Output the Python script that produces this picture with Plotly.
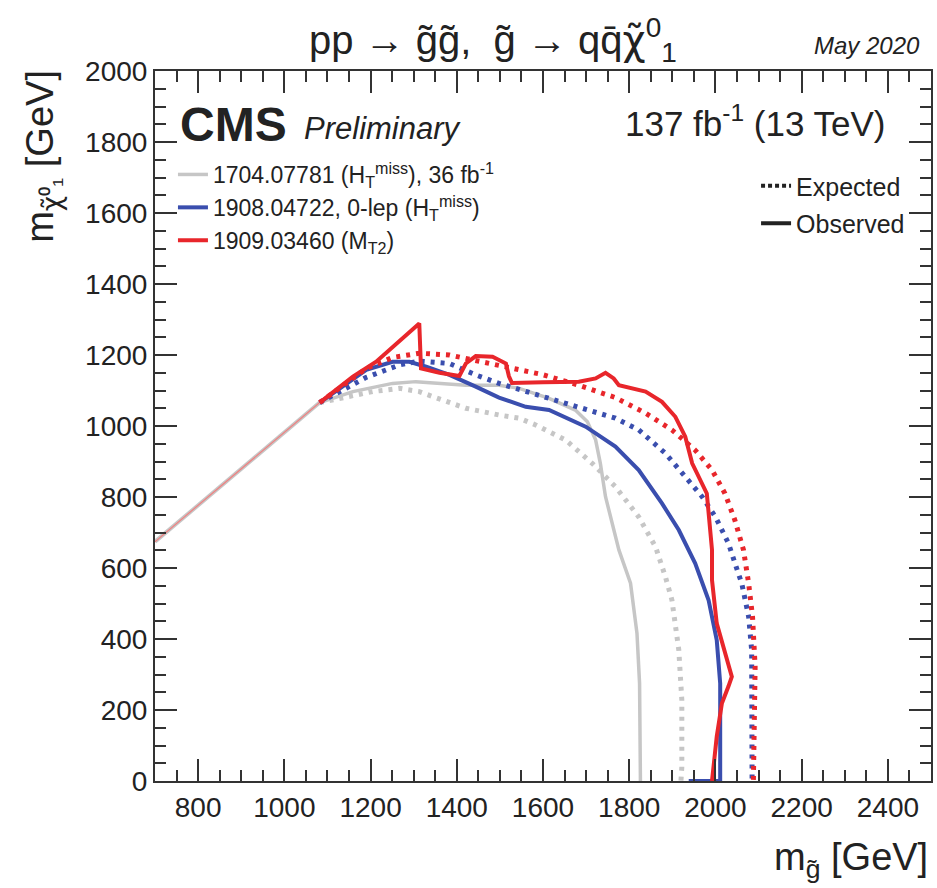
import plotly.graph_objects as go

# ---- data (GeV) ----
diag_x = [700, 1082]
diag_y = [674, 1066]

gray_obs_x = [1082, 1159, 1251, 1305, 1421, 1498, 1545, 1614, 1675, 1703, 1722, 1733, 1745, 1776, 1803, 1818, 1824, 1826]
gray_obs_y = [1066, 1097, 1120, 1125, 1115, 1115, 1106, 1078, 1045, 1012, 961, 895, 801, 651, 557, 416, 275, 0]

gray_exp_x = [1082, 1205, 1267, 1313, 1344, 1421, 1498, 1545, 1583, 1652, 1714, 1768, 1822, 1861, 1884, 1899, 1915, 1922, 1922, 1920]
gray_exp_y = [1066, 1097, 1106, 1097, 1083, 1050, 1031, 1022, 1003, 961, 895, 829, 744, 660, 575, 510, 369, 228, 40, 0]

blue_obs_x = [1082, 1190, 1251, 1290, 1329, 1383, 1444, 1498, 1560, 1614, 1699, 1768, 1822, 1876, 1915, 1953, 1984, 2003, 2011, 2011, 1938]
blue_obs_y = [1066, 1158, 1181, 1181, 1167, 1144, 1111, 1080, 1054, 1045, 998, 942, 876, 782, 707, 613, 510, 397, 275, 0, 0]

blue_exp_x = [1082, 1190, 1267, 1313, 1383, 1444, 1498, 1575, 1683, 1768, 1822, 1884, 1930, 1969, 2000, 2030, 2053, 2061, 2077, 2084, 2085]
blue_exp_y = [1066, 1137, 1172, 1183, 1176, 1144, 1120, 1092, 1054, 1022, 989, 923, 857, 801, 744, 670, 585, 557, 463, 369, 0]

red_obs_x = [1082, 1159, 1213, 1313, 1317, 1360, 1406, 1421, 1444, 1483, 1498, 1514, 1521, 1528, 1600, 1683, 1722, 1745,
             1764, 1776, 1838, 1876, 1907, 1930, 1946, 1980, 1992, 1992, 2003, 2030, 2038, 2030, 2015, 2003, 1992]
red_obs_y = [1066, 1139, 1181, 1289, 1162, 1150, 1141, 1176, 1197, 1195, 1186, 1176, 1140, 1121, 1123, 1125, 1134, 1150,
             1134, 1115, 1097, 1068, 1026, 970, 895, 810, 651, 566, 444, 332, 294, 266, 219, 125, 0]

red_exp_x = [1082, 1190, 1251, 1313, 1383, 1421, 1521, 1598, 1683, 1768, 1838, 1899, 1953, 1992, 2022, 2045, 2065, 2077, 2086, 2092, 2088]
red_exp_y = [1066, 1162, 1193, 1205, 1200, 1190, 1167, 1145, 1115, 1080, 1036, 989, 932, 876, 810, 735, 651, 557, 463, 322, 0]

x_ticks = [800, 1000, 1200, 1400, 1600, 1800, 2000, 2200, 2400]
y_ticks = [0, 200, 400, 600, 800, 1000, 1200, 1400, 1600, 1800, 2000]

GRAY = "#c6c6c6"
BLUE = "#3a4eae"
RED = "#e8262b"
DOT = "4px,6px"
FONT = "Liberation Sans, Arial, Helvetica, sans-serif"
CHI = "<span style='font-family:DejaVu Sans'>χ̃</span>"

fig = go.Figure()

fig.add_trace(go.Scatter(x=diag_x, y=diag_y, mode="lines", line=dict(color=GRAY, width=4), showlegend=False, hoverinfo="skip"))
fig.add_trace(go.Scatter(x=diag_x, y=diag_y, mode="lines", line=dict(color="#f08080", width=1.2), showlegend=False, hoverinfo="skip"))

fig.add_trace(go.Scatter(x=gray_exp_x, y=gray_exp_y, mode="lines", line=dict(color=GRAY, width=5, dash=DOT), showlegend=False))
fig.add_trace(go.Scatter(x=gray_obs_x, y=gray_obs_y, mode="lines", line=dict(color=GRAY, width=3.5),
                         name="1704.07781 (H<sub>T</sub><sup>miss</sup>), 36 fb<sup>-1</sup>", legend="legend"))
fig.add_trace(go.Scatter(x=blue_exp_x, y=blue_exp_y, mode="lines", line=dict(color=BLUE, width=5, dash=DOT), showlegend=False))
fig.add_trace(go.Scatter(x=blue_obs_x, y=blue_obs_y, mode="lines", line=dict(color=BLUE, width=4),
                         name="1908.04722, 0-lep (H<sub>T</sub><sup>miss</sup>)", legend="legend"))
fig.add_trace(go.Scatter(x=red_exp_x, y=red_exp_y, mode="lines", line=dict(color=RED, width=5, dash=DOT), showlegend=False))
fig.add_trace(go.Scatter(x=red_obs_x, y=red_obs_y, mode="lines", line=dict(color=RED, width=4),
                         name="1909.03460 (M<sub>T2</sub>)", legend="legend"))

# style legend entries
fig.add_trace(go.Scatter(x=[None], y=[None], mode="lines", line=dict(color="#222", width=4, dash="4px,3px"),
                         name="Expected", legend="legend2", legendgroup="e"))
fig.add_trace(go.Scatter(x=[None], y=[None], mode="lines", line=dict(color="#222", width=4),
                         name="Observed", legend="legend2", legendgroup="o"))

axis_common = dict(
    showgrid=False, zeroline=False, showline=True, linecolor="#333", linewidth=2,
    mirror="allticks", ticks="inside", ticklen=22, tickwidth=1.5, tickcolor="#333",
    tickfont=dict(family=FONT, size=28, color="#222"),
    minor=dict(ticks="inside", ticklen=11, tickwidth=1.5, tickcolor="#333", dtick=50, showgrid=False),
)

fig.update_xaxes(range=[700, 2500], tickmode="array", tickvals=x_ticks, ticktext=[str(v) for v in x_ticks], **axis_common)
fig.update_yaxes(range=[0, 2000], tickmode="array", tickvals=y_ticks, ticktext=[str(v) for v in y_ticks], **axis_common)

def px(v):
    return (v - 155) / 778.0

def py(v):
    return (781 - v) / 710.0

ann = [
    dict(text="pp → g̃g̃,  g̃ → qq̄" + CHI + "<sup>0</sup><sub>1</sub>", x=px(494), y=py(40), xanchor="center", yanchor="middle",
         font=dict(size=40, family=FONT, color="#222")),
    dict(text="<i>May 2020</i>", x=px(924), y=py(45), xanchor="right", yanchor="middle",
         font=dict(size=24, family=FONT, color="#222")),
    dict(text="<b>CMS</b>", x=px(178), y=py(124), xanchor="left", yanchor="middle",
         font=dict(size=48, family=FONT, color="#222")),
    dict(text="<i>Preliminary</i>", x=px(302), y=py(128), xanchor="left", yanchor="middle",
         font=dict(size=31, family=FONT, color="#222")),
    dict(text="137 fb<sup>-1</sup> (13 TeV)", x=px(889), y=py(121), xanchor="right", yanchor="middle",
         font=dict(size=35, family=FONT, color="#222")),
    dict(text="m<sub>" + CHI + "⁰₁</sub> [GeV]", x=px(42), y=py(68), xanchor="center", yanchor="top", textangle=-90,
         font=dict(size=38, family=FONT, color="#222")),
    dict(text="m<sub>g̃</sub> [GeV]", x=px(932), y=py(860), xanchor="right", yanchor="middle",
         font=dict(size=38, family=FONT, color="#222")),
]
for a in ann:
    a.update(xref="paper", yref="paper", showarrow=False)

fig.update_layout(
    width=937, height=888,
    margin=dict(l=155, r=4, t=71, b=107),
    plot_bgcolor="white", paper_bgcolor="white",
    font=dict(family=FONT, color="#222"),
    annotations=ann,
    legend=dict(x=px(173), y=py(153), xanchor="left", yanchor="top", bgcolor="rgba(0,0,0,0)",
                font=dict(size=23, family=FONT, color="#222"), itemwidth=30, tracegroupgap=0),
    legend2=dict(x=px(912), y=py(163), xanchor="right", yanchor="top", bgcolor="rgba(0,0,0,0)",
                 font=dict(size=25, family=FONT, color="#222"), itemwidth=30, tracegroupgap=2,
                 traceorder="grouped"),
)

fig.write_html("out.html", config={"displayModeBar": False},
               post_script="document.body.style.margin='0';document.body.style.padding='0';")
